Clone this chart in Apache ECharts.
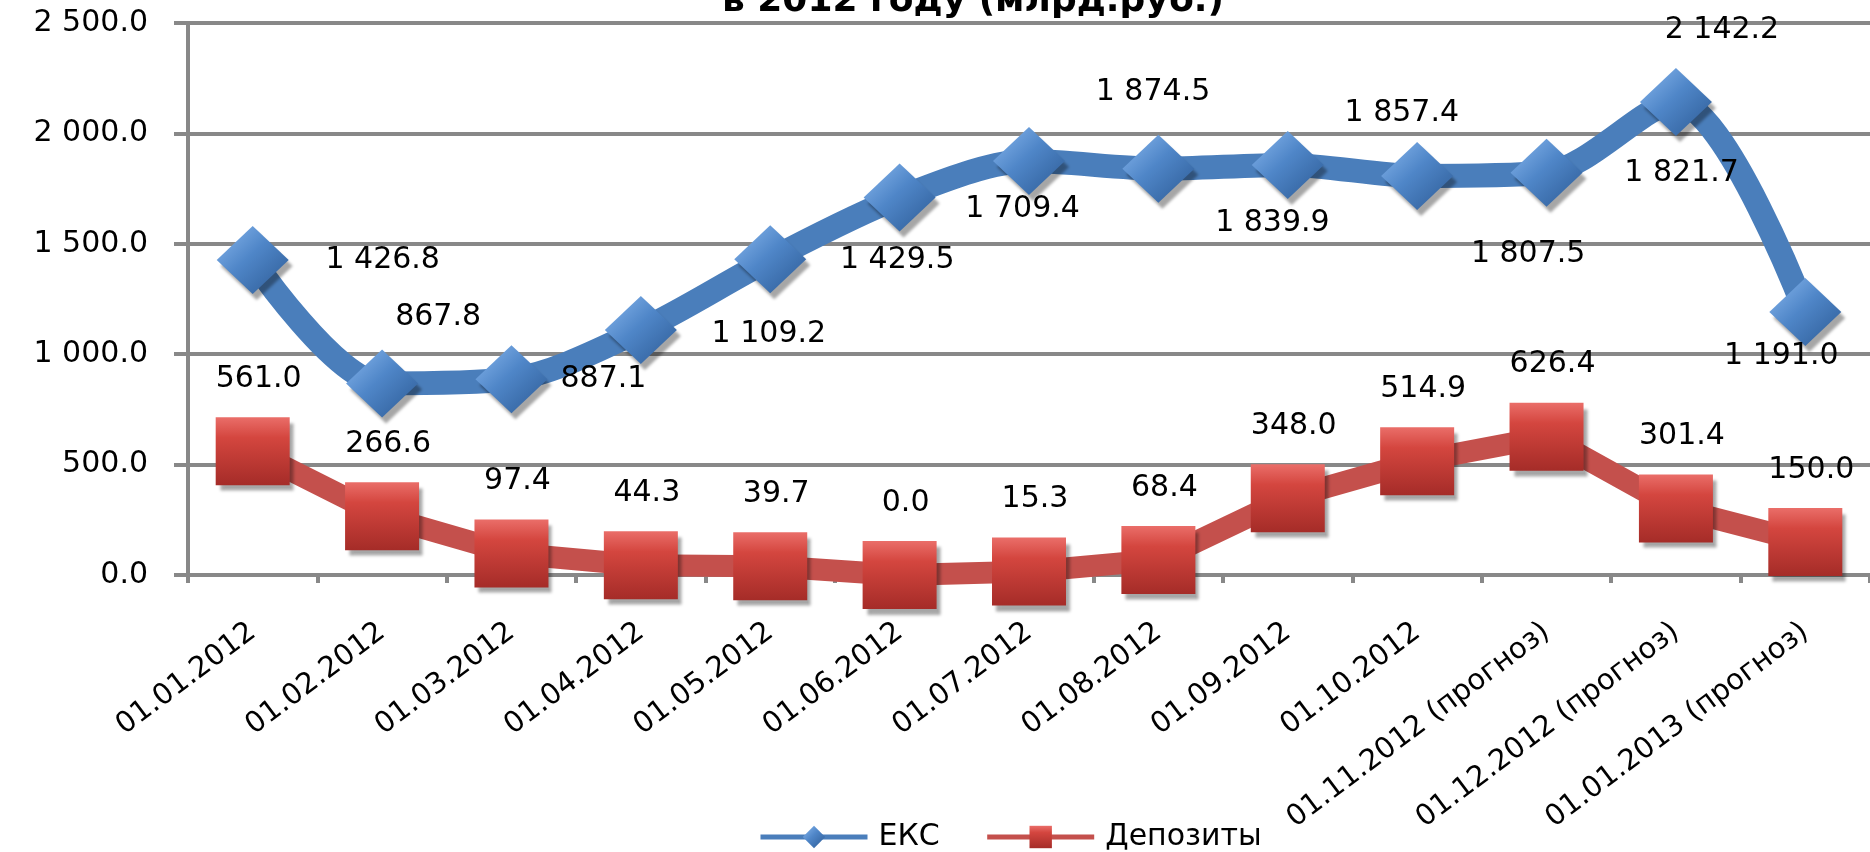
<!DOCTYPE html>
<html>
<head>
<meta charset="utf-8">
<script src="https://cdn.jsdelivr.net/npm/echarts@6/dist/echarts.min.js"></script>
<style>
html,body{margin:0;padding:0;background:#fff;}
#chart{width:1870px;height:852px;}
</style>
</head>
<body>
<div id="chart"></div>
<script>
const categories = ['01.01.2012','01.02.2012','01.03.2012','01.04.2012','01.05.2012','01.06.2012','01.07.2012','01.08.2012','01.09.2012','01.10.2012','01.11.2012 (прогноз)','01.12.2012 (прогноз)','01.01.2013 (прогноз)'];
const eksValues = [1426.8, 867.8, 887.1, 1109.2, 1429.5, 1709.4, 1874.5, 1839.9, 1857.4, 1807.5, 1821.7, 2142.2, 1191.0];
const depValues = [561.0, 266.6, 97.4, 44.3, 39.7, 0.0, 15.3, 68.4, 348.0, 514.9, 626.4, 301.4, 150.0];
const seriesNames = ['ЕКС', 'Депозиты'];
const titleText = 'в 2012 году (млрд.руб.)';

// label placement (style, not data)
const eksLabelOffsets = [[130,0],[56,-66],[92,0],[128,4],[127,1],[123,12],[124,-69],[114,54],[114,-52],[111,78],[135,0],[46,-72],[-24,44]];
const depLabelOffset = [6,-72];

function fmt(v){
  const s = Number(v).toFixed(1);
  const parts = s.split('.');
  return parts[0].replace(/\B(?=(\d{3})+(?!\d))/g, ' ') + '.' + parts[1];
}

const FONT = 'DejaVu Sans';
const chart = echarts.init(document.getElementById('chart'));

const blueGrad = new echarts.graphic.LinearGradient(0,0,1,1,[
  {offset:0,color:'#8ab8ee'},{offset:0.45,color:'#4f86c8'},{offset:1,color:'#2c5a94'}]);
const redGrad = new echarts.graphic.LinearGradient(0,0,0,1,[
  {offset:0,color:'#ea6e69'},{offset:0.3,color:'#d4463f'},{offset:1,color:'#a52c28'}]);

const eksData = eksValues.map((v,i)=>({
  value:v,
  label:{offset:eksLabelOffsets[i]}
}));
const depData = depValues.map(v=>({value:v}));

chart.setOption({
  animation:false,
  backgroundColor:'#ffffff',
  graphic:[{
    type:'text', left:722, top:-16,
    style:{text:titleText, font:'bold 36px "DejaVu Sans"', fill:'#000'}
  }],
  grid:{left:188, right:0, top:23, bottom:277, containLabel:false},
  legend:{
    left:753, top:817,
    itemWidth:107, itemHeight:28, itemGap:45,
    textStyle:{fontFamily:FONT, fontSize:30, color:'#000', padding:[0,0,0,6]},
    lineStyle:{width:5},
    data:seriesNames
  },
  xAxis:{
    type:'category', data:categories, boundaryGap:true,
    axisLine:{lineStyle:{color:'#888', width:4}},
    axisTick:{show:true, interval:0, length:8, lineStyle:{color:'#888', width:4}},
    axisLabel:{interval:0, rotate:37, margin:54, fontFamily:FONT, fontSize:29, color:'#000'},
    splitLine:{show:false}
  },
  yAxis:{
    type:'value', min:0, max:2500, interval:500,
    axisLine:{show:true, lineStyle:{color:'#888', width:4}},
    axisTick:{show:true, length:14, lineStyle:{color:'#888', width:4}},
    axisLabel:{margin:40, fontFamily:FONT, fontSize:30, color:'#000', formatter:fmt},
    splitLine:{show:true, lineStyle:{color:'#888', width:4}}
  },
  series:[
    {
      name:seriesNames[0], type:'line', data:eksData, smooth:0.3,
      symbol:'diamond', symbolSize:[72,68],
      lineStyle:{color:'#4a7ebb', width:24},
      itemStyle:{color:blueGrad, shadowColor:'rgba(0,0,0,0.35)', shadowBlur:3, shadowOffsetX:4, shadowOffsetY:6},
      label:{show:true, position:'inside', color:'#000', fontFamily:FONT, fontSize:30,
        formatter:p=>fmt(p.value)},
      z:2
    },
    {
      name:seriesNames[1], type:'line', data:depData, smooth:false,
      symbol:'rect', symbolSize:[74,68],
      lineStyle:{color:'#c4504c', width:22},
      itemStyle:{color:redGrad, shadowColor:'rgba(0,0,0,0.35)', shadowBlur:3, shadowOffsetX:4, shadowOffsetY:6},
      label:{show:true, position:'inside', offset:depLabelOffset, color:'#000', fontFamily:FONT, fontSize:30,
        formatter:p=>fmt(p.value)},
      z:3
    }
  ]
});
</script>
</body>
</html>
